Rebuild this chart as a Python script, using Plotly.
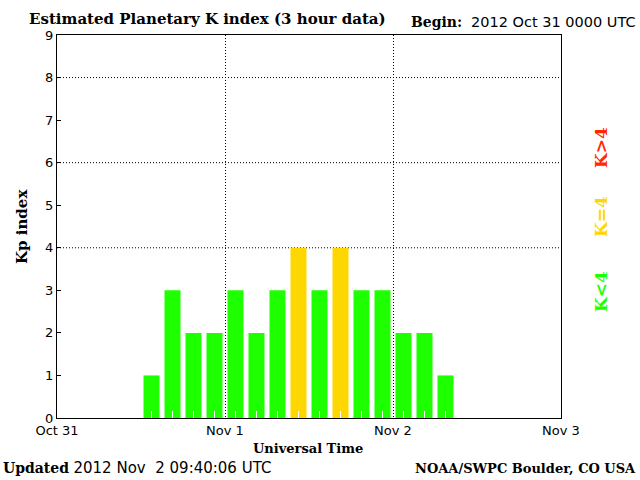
import plotly.graph_objects as go
import pandas as pd

# 3-hour slots starting 2012-10-31 00:00 UTC (24 slots over 3 days)
slot_starts = pd.date_range("2012-10-31 00:00", periods=24, freq="3h")
kp_values = [None, None, None, None, 1, 3, 2, 2, 3, 2, 3, 4,
             3, 4, 3, 3, 2, 2, 1, None, None, None, None, None]
day_ticks = ["2012-10-31", "2012-11-01", "2012-11-02", "2012-11-03"]
day_labels = ["Oct 31", "Nov 1", "Nov 2", "Nov 3"]
y_ticks = [0, 1, 2, 3, 4, 5, 6, 7, 8, 9]
grid_levels = [4, 6, 8]

GREEN = "#1EFF00"
GOLD = "#FFD700"
RED = "#FF2A00"

def color_for(v):
    if v is None or v < 4:
        return GREEN
    if v == 4:
        return GOLD
    return RED

centers = slot_starts + pd.Timedelta(minutes=90)
SERIF = "DejaVu Serif"
SANS = "DejaVu Sans"
DOT = "1px,2px"

fig = go.Figure()
fig.add_trace(go.Bar(
    x=centers, y=kp_values,
    marker=dict(color=[color_for(v) for v in kp_values], line=dict(width=0)),
    width=3 * 3600 * 1000 * 16 / 21,
    hoverinfo="skip",
))

shapes = []
for g in grid_levels:
    shapes.append(dict(type="line", xref="paper", yref="y", x0=0, x1=1, y0=g, y1=g,
                       line=dict(color="black", width=1, dash=DOT), layer="below"))

fig.update_layout(
    width=640, height=480,
    margin=dict(l=57, r=79, t=35, b=62),
    paper_bgcolor="white", plot_bgcolor="white",
    showlegend=False,
    shapes=shapes,
    xaxis=dict(
        type="date",
        range=["2012-10-31", "2012-11-03"],
        tickvals=day_ticks, ticktext=day_labels,
        ticks="", showgrid=True, gridcolor="black", griddash=DOT, gridwidth=1,
        showline=True, linecolor="black", linewidth=1, mirror=True,
        tickfont=dict(family=SANS, size=13, color="black"),
        zeroline=False, layer="above traces",
        minor=dict(ticks="inside", ticklen=7, tickcolor="white", tickwidth=1,
                   tick0="2012-10-31 01:30", dtick=3 * 3600 * 1000, showgrid=False),
    ),
    yaxis=dict(
        range=[0, 9], tickvals=y_ticks,
        ticks="inside", ticklen=4, tickcolor="black",
        showgrid=False, zeroline=False,
        showline=True, linecolor="black", linewidth=1, mirror=True,
        tickfont=dict(family=SANS, size=13, color="black"),
        layer="above traces",
    ),
)

def px_x(px):
    return (px - 57) / 504.0

def px_y(py):
    return (418 - py) / 383.0

ann = []
ann.append(dict(text="<b>Estimated Planetary K index (3 hour data)</b>", x=px_x(27), y=px_y(19),
                xanchor="left", yanchor="middle", font=dict(family=SERIF, size=15, color="black")))
ann.append(dict(text="<b>Begin:</b>&nbsp;&nbsp;<span style='font-family:DejaVu Sans;font-size:14.5px'>2012 Oct 31 0000 UTC</span>",
                x=px_x(638), y=px_y(22), xanchor="right", yanchor="middle",
                font=dict(family=SERIF, size=14, color="black")))
ann.append(dict(text="<b>Kp index</b>", x=px_x(22), y=px_y(227), textangle=-90,
                xanchor="center", yanchor="middle", font=dict(family=SERIF, size=15, color="black")))
ann.append(dict(text="<b>Universal Time</b>", x=px_x(308), y=px_y(448),
                xanchor="center", yanchor="middle", font=dict(family=SERIF, size=13, color="black")))
ann.append(dict(text="<b>Updated</b>&nbsp;<span style='font-family:DejaVu Sans;font-size:15px'>2012 Nov&nbsp;&nbsp;2 09:40:06 UTC</span>",
                x=px_x(1), y=px_y(468), xanchor="left", yanchor="middle",
                font=dict(family=SERIF, size=14, color="black")))
ann.append(dict(text="<b>NOAA/SWPC Boulder, CO USA</b>", x=px_x(638), y=px_y(468),
                xanchor="right", yanchor="middle", font=dict(family=SERIF, size=13, color="black")))
ann.append(dict(text="<b>K&lt;4</b>", x=px_x(601), y=px_y(292), textangle=-90,
                xanchor="center", yanchor="middle", font=dict(family=SERIF, size=17, color=GREEN)))
ann.append(dict(text="<b>K=4</b>", x=px_x(601), y=px_y(217), textangle=-90,
                xanchor="center", yanchor="middle", font=dict(family=SERIF, size=17, color=GOLD)))
ann.append(dict(text="<b>K&gt;4</b>", x=px_x(601), y=px_y(148), textangle=-90,
                xanchor="center", yanchor="middle", font=dict(family=SERIF, size=17, color=RED)))
for a in ann:
    a.update(xref="paper", yref="paper", showarrow=False)
fig.update_layout(annotations=ann)

# remove the default 8px page margin so the 640x480 figure fills the window exactly
fig.write_html("out.html", config={"displayModeBar": False},
               post_script="document.body.style.margin='0';")
